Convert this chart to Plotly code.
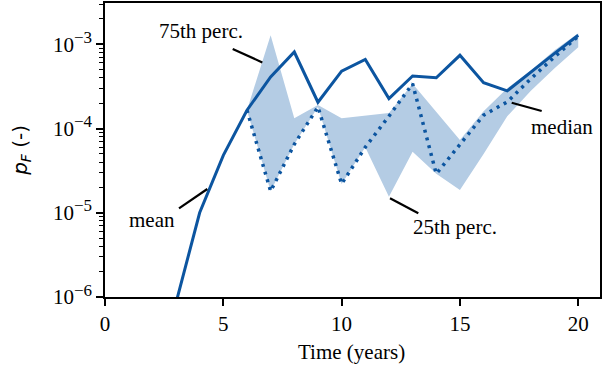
import plotly.graph_objects as go

# ---- data ----
years_mean = list(range(3, 21))
mean_vals = [8.5e-7, 1.0e-5, 4.8e-5, 1.65e-4, 4.1e-4, 8.1e-4, 2.05e-4, 4.8e-4, 6.6e-4,
             2.27e-4, 4.2e-4, 4.0e-4, 7.4e-4, 3.5e-4, 2.8e-4, 4.7e-4, 7.8e-4, 1.28e-3]

years_pct = list(range(6, 21))
median_vals = [1.65e-4, 1.8e-5, 6.5e-5, 1.8e-4, 2.2e-5, 6.0e-5, 1.4e-4, 3.4e-4, 2.9e-5,
               6.4e-5, 1.44e-4, 2.07e-4, 3.9e-4, 7.1e-4, 1.25e-3]
p25_vals = [1.65e-4, 1.8e-5, 6.5e-5, 1.8e-4, 2.2e-5, 6.0e-5, 1.55e-5, 5.3e-5, 2.9e-5,
            1.86e-5, 5.0e-5, 1.4e-4, 2.8e-4, 5.2e-4, 9.2e-4]
p75_vals = [1.65e-4, 1.28e-3, 1.32e-4, 1.9e-4, 1.32e-4, 1.42e-4, 1.53e-4, 3.4e-4, 1.6e-4,
            7.3e-5, 1.6e-4, 3.0e-4, 4.9e-4, 8.5e-4, 1.35e-3]

x_ticks = [0, 5, 10, 15, 20]
y_exps = [-6, -5, -4, -3]
y_ticks = [10.0 ** e for e in y_exps]
y_ticktext = ["10<sup><span style='font-size:17px'>\u2212%d</span></sup>" % (-e) for e in y_exps]
y_minor = [m * 10.0 ** e for e in range(-6, -2) for m in range(2, 10)]

LINE = "#0c55a0"
FILL = "rgb(180,204,228)"
SERIF = "Liberation Serif, Times New Roman, serif"

fig = go.Figure()
fig.add_trace(go.Scatter(x=years_pct, y=p25_vals, mode="lines",
                         line=dict(width=0, color=FILL), showlegend=False, hoverinfo="skip"))
fig.add_trace(go.Scatter(x=years_pct, y=p75_vals, mode="lines", fill="tonexty",
                         fillcolor=FILL, line=dict(width=0, color=FILL), showlegend=False))
fig.add_trace(go.Scatter(x=years_mean, y=mean_vals, mode="lines",
                         line=dict(color=LINE, width=3), showlegend=False))
fig.add_trace(go.Scatter(x=years_pct, y=median_vals, mode="lines",
                         line=dict(color=LINE, width=3.5, dash="3px,5px"), showlegend=False))

# label annotations (paper coords)
labels = [("75th perc.", 0.194, 0.905), ("mean", 0.0943, 0.262),
          ("25th perc.", 0.7065, 0.237), ("median", 0.923, 0.579)]
pointers = [(0.258, 0.8435, 0.3178, 0.798), (0.1495, 0.3017, 0.2067, 0.3673),
            (0.5758, 0.3357, 0.6329, 0.2847), (0.8216, 0.6609, 0.8822, 0.6327)]
annotations = []
for t, x, y in labels:
    annotations.append(dict(text=t, x=x, y=y, xref="paper", yref="paper", showarrow=False,
                            xanchor="center", yanchor="middle",
                            font=dict(family=SERIF, size=21, color="black")))
annotations.append(dict(text="<i>p</i><sub><i>F</i></sub> (-)", x=-0.17, y=0.5,
                        xref="paper", yref="paper", showarrow=False, textangle=-90,
                        xanchor="center", yanchor="middle",
                        font=dict(family="DejaVu Sans", size=20, color="black")))
annotations.append(dict(text="Time (years)", x=0.497, y=-0.187, xref="paper", yref="paper",
                        showarrow=False, xanchor="center", yanchor="middle",
                        font=dict(family=SERIF, size=21, color="black")))
shapes = [dict(type="line", xref="paper", yref="paper", x0=a, y0=b, x1=c, y1=d,
               line=dict(color="black", width=2.2)) for a, b, c, d in pointers]

fig.update_layout(
    width=612, height=374,
    margin=dict(l=105, r=12, t=3, b=77, autoexpand=False),
    plot_bgcolor="white", paper_bgcolor="white",
    annotations=annotations, shapes=shapes,
    xaxis=dict(range=[0, 20.92], tickvals=x_ticks, ticks="outside", ticklen=7, tickwidth=1.5,
               tickcolor="black", showline=True, linecolor="black", linewidth=1.5, mirror=True,
               showgrid=False, zeroline=False, automargin=False,
               tickfont=dict(family=SERIF, size=21, color="black")),
    yaxis=dict(type="log", range=[-6, -2.51], tickvals=y_ticks, ticktext=y_ticktext,
               ticks="outside", ticklen=7, tickwidth=1.5, tickcolor="black",
               showline=True, linecolor="black", linewidth=1.5, mirror=True,
               showgrid=False, zeroline=False, automargin=False,
               minor=dict(tickvals=y_minor, ticks="outside", ticklen=4, tickwidth=1,
                          tickcolor="black", showgrid=False),
               tickfont=dict(family=SERIF, size=21, color="black")),
)

fig.write_html("out.html", config={"displayModeBar": False},
               post_script="document.body.style.margin='0';")
